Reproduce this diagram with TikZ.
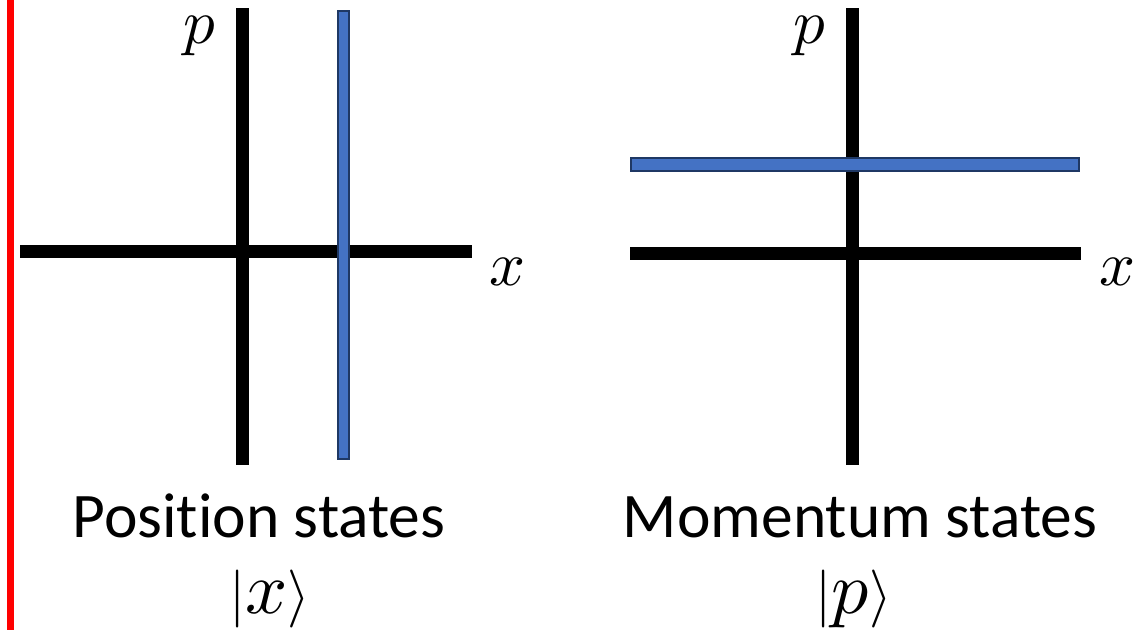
\documentclass[tikz,border=0pt]{standalone}
\usepackage{fontspec}
\usepackage{unicode-math}
\setmainfont{Carlito}[Ligatures=NoCommon]
\setmathfont{Latin Modern Math}
\definecolor{barfill}{RGB}{68,114,196}
\definecolor{barline}{RGB}{31,56,100}
\definecolor{redline}{RGB}{255,0,0}
\newcommand{\ketof}[1]{{\fontsize{58}{70}\selectfont$|$}{\fontsize{74}{90}\selectfont$#1$}{\fontsize{58}{70}\selectfont$\rangle$}}
\begin{document}
\begin{tikzpicture}[x=1pt,y=-1pt,
  axis/.style={line width=13pt,black},
  bar/.style={fill=barfill,draw=barline,line width=2.5pt},
  lbl/.style={inner sep=0pt,anchor=base,font=\fontsize{63}{70}\selectfont},
  captext/.style={inner sep=0pt,align=center,font=\fontsize{63.5}{70}\selectfont}]
\useasboundingbox (0,0) rectangle (1137,630);
% red line
\draw[redline,line width=7pt] (10.5,0) -- (10.5,630);
% left diagram
\coordinate (lvT) at (242.5,8);
\coordinate (lvB) at (242.5,465);
\coordinate (lhL) at (20,251.5);
\coordinate (lhR) at (472,251.5);
\draw[axis] (lvT) -- (lvB);
\draw[axis] (lhL) -- (lhR);
\draw[bar] (338,11) rectangle (349,459) coordinate (lbar);
\node[lbl] (lp) at (200,43) {$p$};
\node[lbl] (lx) at (508,285) {$x$};
\node[captext,anchor=base] (lcap) at (259,537) {Position states};
\node[inner sep=0pt,anchor=base] (lket) at (270,613) {\ketof{x}};
% right diagram
\coordinate (rvT) at (852.5,8);
\coordinate (rvB) at (852.5,465);
\coordinate (rhL) at (630,253);
\coordinate (rhR) at (1081,253);
\draw[axis] (rvT) -- (rvB);
\draw[axis] (rhL) -- (rhR);
\draw[bar] (631,158) rectangle (1079,171) coordinate (rbar);
\node[lbl] (rp) at (810,43) {$p$};
\node[lbl] (rx) at (1118,285) {$x$};
\node[captext,anchor=base] (rcap) at (860,537) {Momentum states};
\node[inner sep=0pt,anchor=base] (rket) at (854,613) {\ketof{p}};
\end{tikzpicture}
\end{document}
